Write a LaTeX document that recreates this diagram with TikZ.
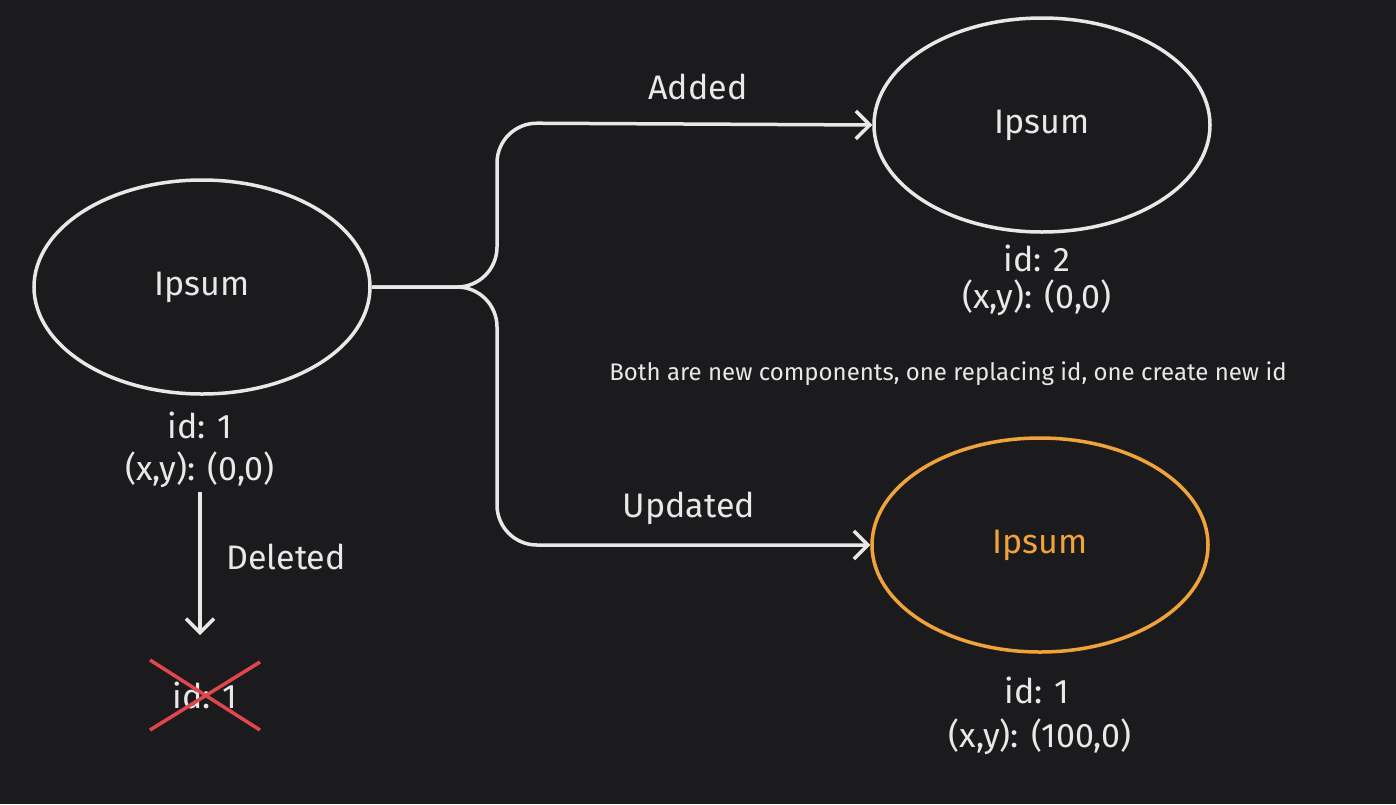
\documentclass[tikz,border=0pt]{standalone}
\usepackage{fontspec}
\setmainfont{Fira Sans}
\usetikzlibrary{arrows.meta,shapes.geometric}
\definecolor{bg}{HTML}{1B1B1D}
\definecolor{fg}{HTML}{E8E8E8}
\definecolor{org}{HTML}{F0A33A}
\definecolor{xred}{HTML}{E0474C}
\begin{document}
\begin{tikzpicture}[x=1pt,y=-1pt,
  ell/.style={draw=fg,line width=3.5pt,ellipse,inner sep=0pt,minimum width=336pt,minimum height=214pt},
  big/.style={text=fg,font=\fontsize{34}{40}\selectfont},
  small/.style={text=fg,font=\fontsize{24}{28}\selectfont},
  con/.style={draw=fg,line width=3.5pt,-{Straight Barb[length=14pt,width=28pt,line width=3.5pt]},rounded corners=40pt}]
\useasboundingbox[fill=bg] (0,0) rectangle (1396,804);
\node[ell] (L) at (202,287) {};
\node[big] (Lt) at (202,287) {Ipsum};
\node[big] (Lid) at (200,425) {id: 1};
\node[big] (Lxy) at (200,470) {(x,y): (0,0)};
\node[ell] (A) at (1042,125) {};
\node[big] (At) at (1042,125) {Ipsum};
\node[big] (Aid) at (1037,258) {id: 2};
\node[big] (Axy) at (1037,298) {(x,y): (0,0)};
\node[ell,draw=org] (U) at (1040,545) {};
\node[big,text=org] (Ut) at (1040,545) {Ipsum};
\node[big] (Uid) at (1037,690) {id: 1};
\node[big] (Uxy) at (1040,737) {(x,y): (100,0)};
\node[big] (D) at (286,557) {Deleted};
\node[big] (Dl) at (698,87) {Added};
\node[big] (Ul) at (689,508) {Updated};
\node[small] (note) at (948,374) {Both are new components, one replacing id, one create new id};
\node[big] (X) at (205,695) {id: 1};
\coordinate (x1) at (150,660); \coordinate (x2) at (260,730);
\coordinate (x3) at (150,730); \coordinate (x4) at (260,662);
\draw[xred,line width=3.5pt] (x1) -- (x2) (x3) -- (x4);
\coordinate (j) at (497,287);
\draw[con] (L.east) -- (j) -- (497,123) -- (A.west);
\draw[con] (L.east) -- (j) -- (497,545) -- (U.west);
\coordinate (d0) at (200,492); \coordinate (d1) at (200,635);
\draw[con] (d0) -- (d1);
\end{tikzpicture}
\end{document}
